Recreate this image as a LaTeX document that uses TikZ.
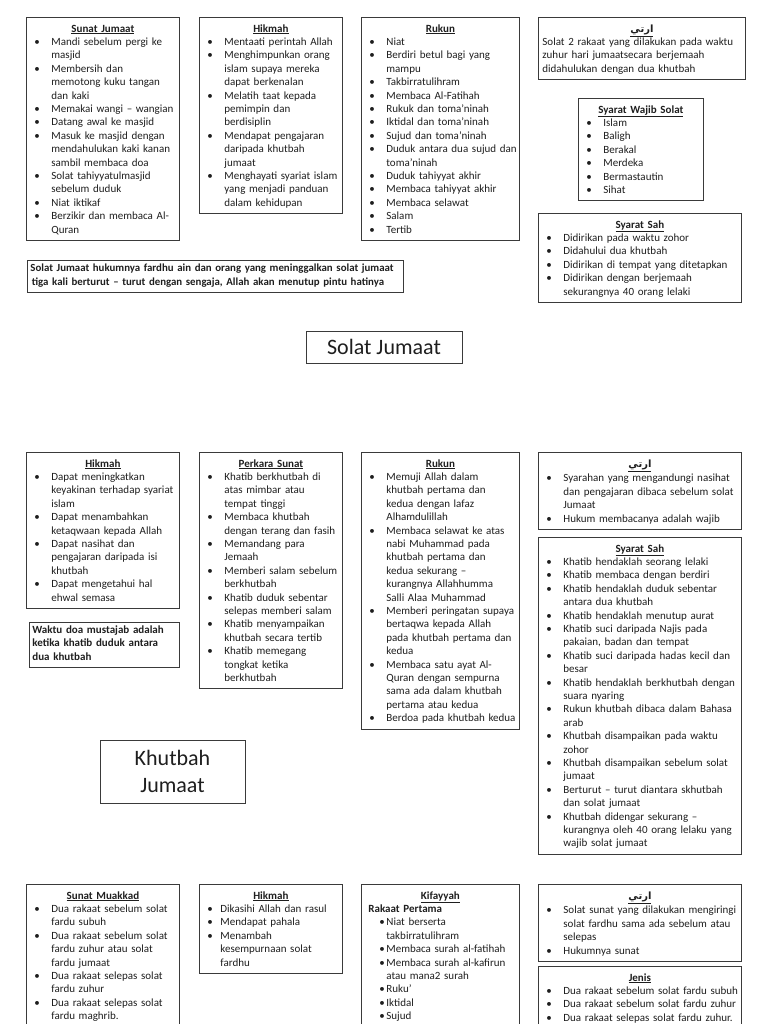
\documentclass[tikz,border=0pt]{standalone}
\usepackage{fontspec}
\setmainfont{Carlito}
\newfontfamily\arabicfont[Script=Arabic]{DejaVu Sans}
\TeXXeTstate=1
\hyphenpenalty=10000
\exhyphenpenalty=10000
\definecolor{boxline}{HTML}{3A3A3A}
\definecolor{boxink}{HTML}{1E1E1E}
\newlength{\bulletpre}\setlength{\bulletpre}{6pt}
\newlength{\bulletgap}\setlength{\bulletgap}{23pt}
\newcommand{\pointitem}[1]{\par\hangindent=\bulletgap\hangafter=1\noindent\makebox[\bulletgap][l]{\hspace{\bulletpre}\textbullet}\strut#1\strut\par}
\newcommand{\boxhead}[1]{{\centering\bfseries\rule{0pt}{11.5pt}\underline{#1}\strut\par}}
\newcommand{\ertihead}{\boxhead{\arabicfont\fontsize{10}{13.4}\selectfont\beginR ارتي\endR}}
\tikzset{
  listbox/.style={draw=boxline,line width=.8pt,anchor=north west,align=left,inner xsep=2pt,inner ysep=3.2pt,text=boxink},
  titlebox/.style={draw=boxline,line width=.8pt,align=center,text=boxink,font=\fontsize{22}{27}\selectfont}
}

\begin{document}
\begin{tikzpicture}[x=1pt,y=-1pt,font=\fontsize{11}{13.4}\selectfont]
        \useasboundingbox (0,0) rectangle (768,1024);
        \clip (0,0) rectangle (768,1024);

        \node[listbox,text width=149pt] (sunatjumaat) at (26,17) {\boxhead{Sunat Jumaat}
          \pointitem{Mandi sebelum pergi ke\newline masjid}
          \pointitem{Membersih dan\newline memotong kuku tangan\newline dan kaki}
          \pointitem{Memakai wangi – wangian}
          \pointitem{Datang awal ke masjid}
          \pointitem{Masuk ke masjid dengan\newline mendahulukan kaki kanan\newline sambil membaca doa}
          \pointitem{Solat tahiyyatulmasjid\newline sebelum duduk}
          \pointitem{Niat iktikaf}
          \pointitem{Berzikir dan membaca Al-\newline Quran}};

        \node[listbox,text width=139pt] (hikmahsolat) at (199,17) {\boxhead{Hikmah}
          \pointitem{Mentaati perintah Allah}
          \pointitem{Menghimpunkan orang\newline islam supaya mereka\newline dapat berkenalan}
          \pointitem{Melatih taat kepada\newline pemimpin dan\newline berdisiplin}
          \pointitem{Mendapat pengajaran\newline daripada khutbah\newline jumaat}
          \pointitem{Menghayati syariat islam\newline yang menjadi panduan\newline dalam kehidupan}};

        \node[listbox,text width=154pt] (rukunsolat) at (361,17) {\boxhead{Rukun}
          \pointitem{Niat}
          \pointitem{Berdiri betul bagi yang\newline mampu}
          \pointitem{Takbirratulihram}
          \pointitem{Membaca Al-Fatihah}
          \pointitem{Rukuk dan toma’ninah}
          \pointitem{Iktidal dan toma’ninah}
          \pointitem{Sujud dan toma’ninah}
          \pointitem{Duduk antara dua sujud dan\newline toma’ninah}
          \pointitem{Duduk tahiyyat akhir}
          \pointitem{Membaca tahiyyat akhir}
          \pointitem{Membaca selawat}
          \pointitem{Salam}
          \pointitem{Tertib}};

        \node[listbox,text width=199pt,inner xsep=4pt] (ertisolat) at (538,17) {\ertihead
          Solat 2 rakaat yang dilakukan pada waktu\newline zuhur hari jumaatsecara berjemaah\newline didahulukan dengan dua khutbah\strut};

        \node[listbox,text width=121pt] (wajibsolat) at (578,98) {\boxhead{Syarat Wajib Solat}
          \pointitem{Islam}
          \pointitem{Baligh}
          \pointitem{Berakal}
          \pointitem{Merdeka}
          \pointitem{Bermastautin}
          \pointitem{Sihat}};

        \node[listbox,text width=199pt] (sahsolat) at (538,213) {\boxhead{Syarat Sah}
          \pointitem{Didirikan pada waktu zohor}
          \pointitem{Didahului dua khutbah}
          \pointitem{Didirikan di tempat yang ditetapkan}
          \pointitem{Didirikan dengan berjemaah\newline sekurangnya 40 orang lelaki}};

        \node[listbox,text width=370pt,inner xsep=3pt,font=\fontsize{10.85}{14}\selectfont\bfseries] (hukumnote) at (27,260)
          {Solat Jumaat hukumnya fardhu ain dan orang yang meninggalkan solat jumaat\newline\hspace*{1.5pt}tiga kali berturut – turut dengan sengaja, Allah akan menutup pintu hatinya\strut};

        \node[titlebox,minimum width=156pt,minimum height=32pt] (solatjumaat) at (384,347) {Solat Jumaat};

        \node[listbox,text width=149pt] (hikmahkhutbah) at (26,452) {\boxhead{Hikmah}
          \pointitem{Dapat meningkatkan\newline keyakinan terhadap syariat\newline islam}
          \pointitem{Dapat menambahkan\newline ketaqwaan kepada Allah}
          \pointitem{Dapat nasihat dan\newline pengajaran daripada isi\newline khutbah}
          \pointitem{Dapat mengetahui hal\newline ehwal semasa}};

        \node[listbox,text width=144pt,inner xsep=3pt,font=\fontsize{11}{13.4}\selectfont\bfseries] (doanote) at (29,622)
          {Waktu doa mustajab adalah\newline ketika khatib duduk antara\newline dua khutbah\strut};

        \node[listbox,text width=139pt] (sunatkhutbah) at (199,452) {\boxhead{Perkara Sunat}
          \pointitem{Khatib berkhutbah di\newline atas mimbar atau\newline tempat tinggi}
          \pointitem{Membaca khutbah\newline dengan terang dan fasih}
          \pointitem{Memandang para\newline Jemaah}
          \pointitem{Memberi salam sebelum\newline berkhutbah}
          \pointitem{Khatib duduk sebentar\newline selepas memberi salam}
          \pointitem{Khatib menyampaikan\newline khutbah secara tertib}
          \pointitem{Khatib memegang\newline tongkat ketika\newline berkhutbah}};

        \node[listbox,text width=154pt] (rukunkhutbah) at (361,452) {\boxhead{Rukun}
          \pointitem{Memuji Allah dalam\newline khutbah pertama dan\newline kedua dengan lafaz\newline Alhamdulillah}
          \pointitem{Membaca selawat ke atas\newline nabi Muhammad pada\newline khutbah pertama dan\newline kedua sekurang –\newline kurangnya Allahhumma\newline Salli Alaa Muhammad}
          \pointitem{Memberi peringatan supaya\newline bertaqwa kepada Allah\newline pada khutbah pertama dan\newline kedua}
          \pointitem{Membaca satu ayat Al-\newline Quran dengan sempurna\newline sama ada dalam khutbah\newline pertama atau kedua}
          \pointitem{Berdoa pada khutbah kedua}};

        \node[listbox,text width=199pt] (ertikhutbah) at (538,452) {\ertihead
          \pointitem{Syarahan yang mengandungi nasihat\newline dan pengajaran dibaca sebelum solat\newline Jumaat}
          \pointitem{Hukum membacanya adalah wajib}};

        \node[listbox,text width=199pt] (sahkhutbah) at (538,537) {\boxhead{Syarat Sah}
          \pointitem{Khatib hendaklah seorang lelaki}
          \pointitem{Khatib membaca dengan berdiri}
          \pointitem{Khatib hendaklah duduk sebentar\newline antara dua khutbah}
          \pointitem{Khatib hendaklah menutup aurat}
          \pointitem{Khatib suci daripada Najis pada\newline pakaian, badan dan tempat}
          \pointitem{Khatib suci daripada hadas kecil dan\newline besar}
          \pointitem{Khatib hendaklah berkhutbah dengan\newline suara nyaring}
          \pointitem{Rukun khutbah dibaca dalam Bahasa\newline arab}
          \pointitem{Khutbah disampaikan pada waktu\newline zohor}
          \pointitem{Khutbah disampaikan sebelum solat\newline jumaat}
          \pointitem{Berturut – turut diantara skhutbah\newline dan solat jumaat}
          \pointitem{Khutbah didengar sekurang –\newline kurangnya oleh 40 orang lelaku yang\newline wajib solat jumaat}};

        \node[titlebox,minimum width=145pt,minimum height=63pt] (khutbahjumaat) at (172.5,771.5) {Khutbah\\Jumaat};

        \node[listbox,text width=149pt] (sunatmuakkad) at (26,884) {\boxhead{Sunat Muakkad}
          \pointitem{Dua rakaat sebelum solat\newline fardu subuh}
          \pointitem{Dua rakaat sebelum solat\newline fardu zuhur atau solat\newline fardu jumaat}
          \pointitem{Dua rakaat selepas solat\newline fardu zuhur}
          \pointitem{Dua rakaat selepas solat\newline fardu maghrib.}\vspace*{30pt}};

        \node[listbox,text width=139pt] (hikmahsunat) at (199,884) {\boxhead{Hikmah}\setlength{\bulletgap}{19pt}
          \pointitem{Dikasihi Allah dan rasul}
          \pointitem{Mendapat pahala}
          \pointitem{Menambah\newline kesempurnaan solat\newline fardhu}};

        \node[listbox,text width=154pt] (kifayyah) at (361,884) {\boxhead{Kifayyah}
          \noindent\hspace*{5pt}\textbf{Rakaat Pertama}\par\setlength{\bulletpre}{16pt}
          \pointitem{Niat berserta\newline takbirratulihram}
          \pointitem{Membaca surah al-fatihah}
          \pointitem{Membaca surah al-kafirun\newline atau mana2 surah}
          \pointitem{Ruku’}
          \pointitem{Iktidal}
          \pointitem{Sujud}\vspace*{30pt}};

        \node[listbox,text width=199pt] (ertisunat) at (538,884) {\ertihead
          \pointitem{Solat sunat yang dilakukan mengiringi\newline solat fardhu sama ada sebelum atau\newline selepas}
          \pointitem{Hukumnya sunat}};

        \node[listbox,text width=199pt] (jenissunat) at (538,966) {\boxhead{Jenis}
          \pointitem{Dua rakaat sebelum solat fardu subuh}
          \pointitem{Dua rakaat sebelum solat fardu zuhur}
          \pointitem{Dua rakaat selepas solat fardu zuhur.}\vspace*{30pt}};
      \end{tikzpicture}
\end{document}
